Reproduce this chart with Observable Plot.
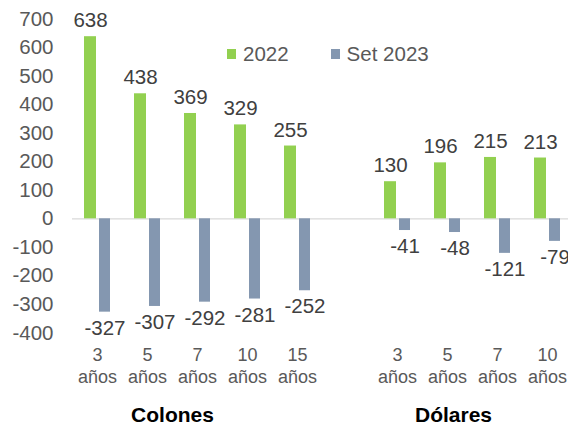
<!DOCTYPE html>
<html>
<head>
<meta charset="utf-8">
<script src="https://cdn.jsdelivr.net/npm/d3@7"></script>
<script src="https://cdn.jsdelivr.net/npm/@observablehq/plot@0.6"></script>
<style>
  html, body { margin: 0; padding: 0; background: #fff; overflow: hidden; }
  body { width: 568px; height: 429px; position: relative; font-family: "Liberation Sans", Arial, sans-serif; }
  #chart { position: absolute; left: 0; top: 0; }
  .legend { position: absolute; top: 43px; left: 227px; display: flex; gap: 0; font-size: 20.5px; color: #595959; line-height: 22px; }
  .legend .item { display: flex; align-items: center; }
  .legend .sw { width: 9px; height: 10px; margin-right: 7px; }
</style>
</head>
<body>
<div id="chart"></div>
<div class="legend">
  <div class="item" style="margin-right:42px"><span class="sw" style="background:#92D050"></span>2022</div>
  <div class="item"><span class="sw" style="background:#8497B0"></span>Set 2023</div>
</div>
<script>
const colonesPlazos = ["3", "5", "7", "10", "15"];
const dolaresPlazos = ["3", "5", "7", "10"];
const colones2022 = [638, 438, 369, 329, 255];
const colonesSet2023 = [-327, -307, -292, -281, -252];
const dolares2022 = [130, 196, 215, 213];
const dolaresSet2023 = [-41, -48, -121, -79];
const yTicks = [-400, -300, -200, -100, 0, 100, 200, 300, 400, 500, 600, 700];
const groups = ["Colones", "Dólares"];

const rows = [];
colonesPlazos.forEach((p, i) => {
  rows.push({key: "Colones|" + p, serie: "2022", value: colones2022[i]});
  rows.push({key: "Colones|" + p, serie: "Set 2023", value: colonesSet2023[i]});
});
dolaresPlazos.forEach((p, i) => {
  rows.push({key: "Dólares|" + p, serie: "2022", value: dolares2022[i]});
  rows.push({key: "Dólares|" + p, serie: "Set 2023", value: dolaresSet2023[i]});
});
const domain = [
  ...colonesPlazos.map(p => "Colones|" + p),
  "gap",
  ...dolaresPlazos.map(p => "Dólares|" + p)
];
const green = rows.filter(d => d.serie === "2022");
const blue = rows.filter(d => d.serie === "Set 2023");

const chart = Plot.plot({
  width: 568,
  height: 429,
  marginLeft: 72,
  marginRight: -4,
  marginTop: 18.5,
  marginBottom: 96.5,
  style: {fontFamily: "'Liberation Sans', Arial, sans-serif", background: "transparent", overflow: "visible"},
  x: {domain, padding: 0, label: null},
  y: {domain: [-400, 700], label: null},
  marks: [
    Plot.ruleY([0], {stroke: "#d9d9d9", strokeWidth: 1.3}),
    Plot.barY(green, {x: "key", y: "value", fill: "#92D050", insetLeft: 12, insetRight: 26}),
    Plot.barY(blue, {x: "key", y: "value", fill: "#8497B0", insetLeft: 27, insetRight: 12}),
    Plot.text(green, {x: "key", y: "value", text: d => String(d.value), dx: -7, dy: -16, fontSize: 20.5, fill: "#404040"}),
    Plot.text(blue, {x: "key", y: "value", text: d => String(d.value), dx: 7.5, dy: 16, fontSize: 20.5, fill: "#404040"}),
    Plot.axisY({ticks: yTicks, tickSize: 0, tickPadding: 19, fontSize: 20.5, color: "#595959", tickFormat: d => String(d)}),
    Plot.axisX({tickSize: 0, tickPadding: 12, fontSize: 18, color: "#595959", lineHeight: 1.22,
      tickFormat: d => d === "gap" ? "" : d.split("|")[1] + "\naños"}),
    Plot.text([groups[0]], {x: () => "Colones|5", text: d => d, dx: 25, frameAnchor: "bottom", dy: 89, fontSize: 21, fontWeight: "bold", fill: "#000"}),
    Plot.text([groups[1]], {x: () => "Dólares|5", text: d => d, dx: 6, frameAnchor: "bottom", dy: 89, fontSize: 21, fontWeight: "bold", fill: "#000"})
  ]
});
document.getElementById("chart").appendChild(chart);
</script>
</body>
</html>
